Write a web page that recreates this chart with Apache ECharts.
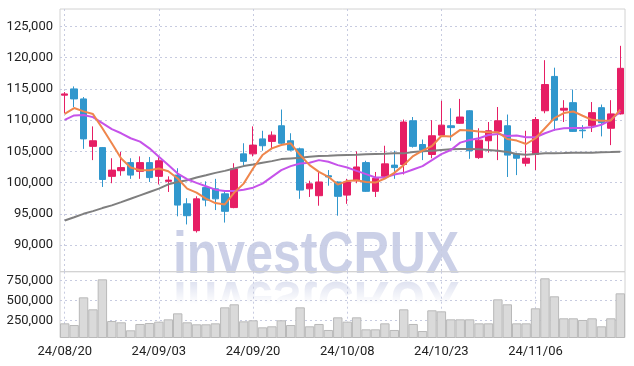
<!DOCTYPE html>
<html>
<head>
<meta charset="utf-8">
<script src="https://cdn.jsdelivr.net/npm/echarts@6/dist/echarts.min.js"></script>
<style>
html,body{margin:0;padding:0;background:#fff;}
#chart{width:634px;height:366px;}
</style>
</head>
<body>
<div id="chart"></div>
<script>
const dates = ['24/08/20','24/08/21','24/08/22','24/08/23','24/08/26','24/08/27','24/08/28','24/08/29','24/08/30','24/09/02',
'24/09/03','24/09/04','24/09/05','24/09/06','24/09/09','24/09/10','24/09/11','24/09/12','24/09/13','24/09/19',
'24/09/20','24/09/23','24/09/24','24/09/25','24/09/26','24/09/27','24/09/30','24/10/02','24/10/04','24/10/07',
'24/10/08','24/10/10','24/10/11','24/10/14','24/10/15','24/10/16','24/10/17','24/10/18','24/10/21','24/10/22',
'24/10/23','24/10/24','24/10/25','24/10/28','24/10/29','24/10/30','24/10/31','24/11/01','24/11/04','24/11/05',
'24/11/06','24/11/07','24/11/08','24/11/11','24/11/12','24/11/13','24/11/14','24/11/15','24/11/18','24/11/19'];

const openPrices = [114000,115000,113400,105800,105600,101000,101900,103200,101800,103200,
101000,100200,101200,96600,92300,99200,99000,98200,96000,104600,
104600,107000,106600,109100,106700,105400,99000,97900,101100,100100,
98000,100300,103200,98600,101000,102800,102900,109900,106100,104500,
107600,109100,109500,111500,104000,106700,108200,109100,104600,103100,
104500,111500,117000,111600,112800,108400,109100,112000,108700,111000];

const closePrices = [114200,113400,107000,106700,100500,102000,102400,101200,103200,100800,
103500,100400,96400,94700,97400,97200,97400,95400,102200,103400,
106000,105900,107600,106300,105200,98800,99800,100100,100900,97800,
100100,102500,98600,100700,103000,102400,109700,105800,105200,107500,
109200,108800,110500,105100,106800,108300,109900,104400,103900,103900,
110100,115700,110000,111900,108200,108300,111200,109600,111000,118300];

const lowPrices = [111100,112100,105400,103600,99300,99900,101100,100600,100600,100100,
99700,98500,94600,93300,92000,96200,95600,93600,95900,102700,
104200,105100,105400,106200,105100,97400,97700,96300,99500,94700,
96600,99900,98500,97700,100900,100600,101300,105600,103600,103900,
107400,106700,109400,103800,103800,104800,103600,100900,101200,102600,
102000,111100,108300,109700,108100,107100,108100,107400,106000,110900];

const highPrices = [114500,115400,113700,109000,105700,103900,104900,103900,104200,104100,
104200,101000,102300,97500,97800,100200,100600,98700,103100,106300,
109000,108300,108200,111700,107900,105600,100300,101700,102000,100200,
100600,105000,103500,101700,105900,105100,110100,110500,106900,110000,
113100,111900,113400,111600,108700,109700,112100,110900,104800,108300,
110500,119600,118400,113200,114900,109200,112900,112500,113200,121900];

const volumes = [217000,196000,542000,392000,767000,246000,230000,130000,209000,221000,
238000,267000,342000,230000,205000,205000,217000,417000,455000,242000,
255000,167000,180000,255000,196000,417000,180000,209000,134000,292000,
238000,292000,142000,142000,217000,134000,392000,209000,121000,380000,
367000,267000,267000,267000,217000,217000,517000,455000,217000,217000,
405000,780000,555000,280000,280000,259000,280000,180000,280000,592000];

const ma5 = [111020,111940,111400,110970,108710,106290,103870,102420,101990,101990,
102260,101830,100650,99030,98390,97420,96720,96510,98390,99840,
102260,104410,105480,106020,106290,104410,102800,101720,100920,99680,
100270,100380,100110,100000,100650,101560,102800,104250,105110,105860,
107470,107370,108440,108330,108170,108060,108060,106990,106730,106180,
107100,108710,110320,111130,111400,110700,110050,109890,109950,111670];

const ma20 = [110050,110750,110810,110480,109520,108550,107900,107100,106560,105480,
104140,102800,101450,100540,99950,99410,98870,98660,98660,98870,
99190,99840,100920,101990,102640,103070,103170,103600,103330,102800,
102420,101880,101350,100810,100810,101290,101560,102100,102640,103600,
104570,105220,106400,106830,107100,107630,107800,107470,107530,107260,
107260,107900,108440,108710,108760,108760,108870,109250,110050,111400];

const ma60 = [93930,94460,95000,95430,95920,96350,96880,97420,97960,98500,
99030,99730,100110,100380,100810,101180,101560,101880,102260,102640,
102900,103170,103440,103760,103870,103980,104140,104250,104300,104360,
104410,104460,104520,104570,104620,104680,104680,104890,105000,105110,
105220,105320,105380,105380,105320,105220,105110,104890,104570,104460,
104570,104680,104680,104730,104790,104790,104790,104840,104890,104950];

const priceTicks = [90000,95000,100000,105000,110000,115000,120000,125000];
const volumeTicks = [250000,500000,750000];
const watermarkText = 'investCRUX';

const candleData = dates.map((d, i) => [openPrices[i], closePrices[i], lowPrices[i], highPrices[i]]);

const RED = '#e61e64', BLUE = '#3097cd';
const gridLine = {show: true, lineStyle: {color: '#c7cbe0', type: [2, 3], width: 1}};
const labelFont = {fontFamily: 'Roboto', color: '#222'};
const wmFont = 'bold 50px "Liberation Sans"';

const chart = echarts.init(document.getElementById('chart'), null, {renderer: 'canvas'});
chart.setOption({
  animation: false,
  backgroundColor: '#fff',
  grid: [
    {left: 60, right: 9, top: 9, height: 262.7, show: true, borderColor: '#d2d2d2', borderWidth: 1, z: 1},
    {left: 60, right: 9, top: 271.7, height: 65.8, show: true, borderColor: '#d2d2d2', borderWidth: 1, z: 1}
  ],
  graphic: [
    {type: 'text', z: 0, silent: true, x: 316, y: 277, scaleY: 1.2,
     style: {text: watermarkText, x: 0, y: -17.5, textAlign: 'center', textVerticalAlign: 'middle',
             font: wmFont, fill: 'rgba(160,170,212,0.55)'}},
    {type: 'text', z: 0, silent: true, x: 316, y: 278, scaleY: -1.2,
     style: {text: watermarkText, x: 0, y: -17.5, textAlign: 'center', textVerticalAlign: 'middle',
             font: wmFont, fill: 'rgba(160,170,212,0.4)'}},
    {type: 'rect', z: 0, silent: true,
     shape: {x: 150, y: 277, width: 330, height: 60},
     style: {fill: new echarts.graphic.LinearGradient(0, 0, 0, 1, [
       {offset: 0, color: 'rgba(255,255,255,0)'},
       {offset: 0.45, color: 'rgba(255,255,255,1)'},
       {offset: 1, color: 'rgba(255,255,255,1)'}
     ])}}
  ],
  xAxis: [
    {type: 'category', gridIndex: 0, data: dates, boundaryGap: true, z: 1,
     axisLine: {show: false}, axisTick: {show: false}, axisLabel: {show: false},
     splitLine: Object.assign({interval: 9, alignWithLabel: true}, gridLine)},
    {type: 'category', gridIndex: 1, data: dates, boundaryGap: true, z: 1,
     axisLine: {show: false}, axisTick: {show: false, alignWithLabel: true},
     axisLabel: Object.assign({interval: 9, fontSize: 13, margin: 8}, labelFont),
     splitLine: Object.assign({interval: 9, alignWithLabel: true}, gridLine)}
  ],
  yAxis: [
    {type: 'value', gridIndex: 0, min: 85733, max: 127796, z: 1,
     axisLine: {show: false}, axisTick: {show: false, customValues: priceTicks},
     axisLabel: Object.assign({customValues: priceTicks, fontSize: 13, margin: 7,
       formatter: v => v.toLocaleString('en-US')}, labelFont),
     splitLine: gridLine},
    {type: 'value', gridIndex: 1, min: 40000, max: 862500, z: 1,
     axisLine: {show: false}, axisTick: {show: false, customValues: volumeTicks},
     axisLabel: Object.assign({customValues: volumeTicks, fontSize: 13, margin: 7}, labelFont),
     splitLine: gridLine}
  ],
  series: [
    {type: 'candlestick', xAxisIndex: 0, yAxisIndex: 0, data: candleData, barWidth: '74%', z: 3,
     itemStyle: {color: RED, color0: BLUE, borderColor: RED, borderColor0: BLUE, borderWidth: 1}},
    {type: 'line', xAxisIndex: 0, yAxisIndex: 0, data: ma60, symbol: 'none', z: 4,
     lineStyle: {color: '#7f7f7f', width: 2}},
    {type: 'line', xAxisIndex: 0, yAxisIndex: 0, data: ma20, symbol: 'none', z: 4,
     lineStyle: {color: '#c653ea', width: 2}},
    {type: 'line', xAxisIndex: 0, yAxisIndex: 0, data: ma5, symbol: 'none', z: 4,
     lineStyle: {color: '#ef864c', width: 2}},
    {type: 'bar', xAxisIndex: 1, yAxisIndex: 1, data: volumes, barCategoryGap: '0%', z: 3,
     itemStyle: {color: '#dadada', borderColor: '#b9b9b9', borderWidth: 1}}
  ]
});
</script>
</body>
</html>
